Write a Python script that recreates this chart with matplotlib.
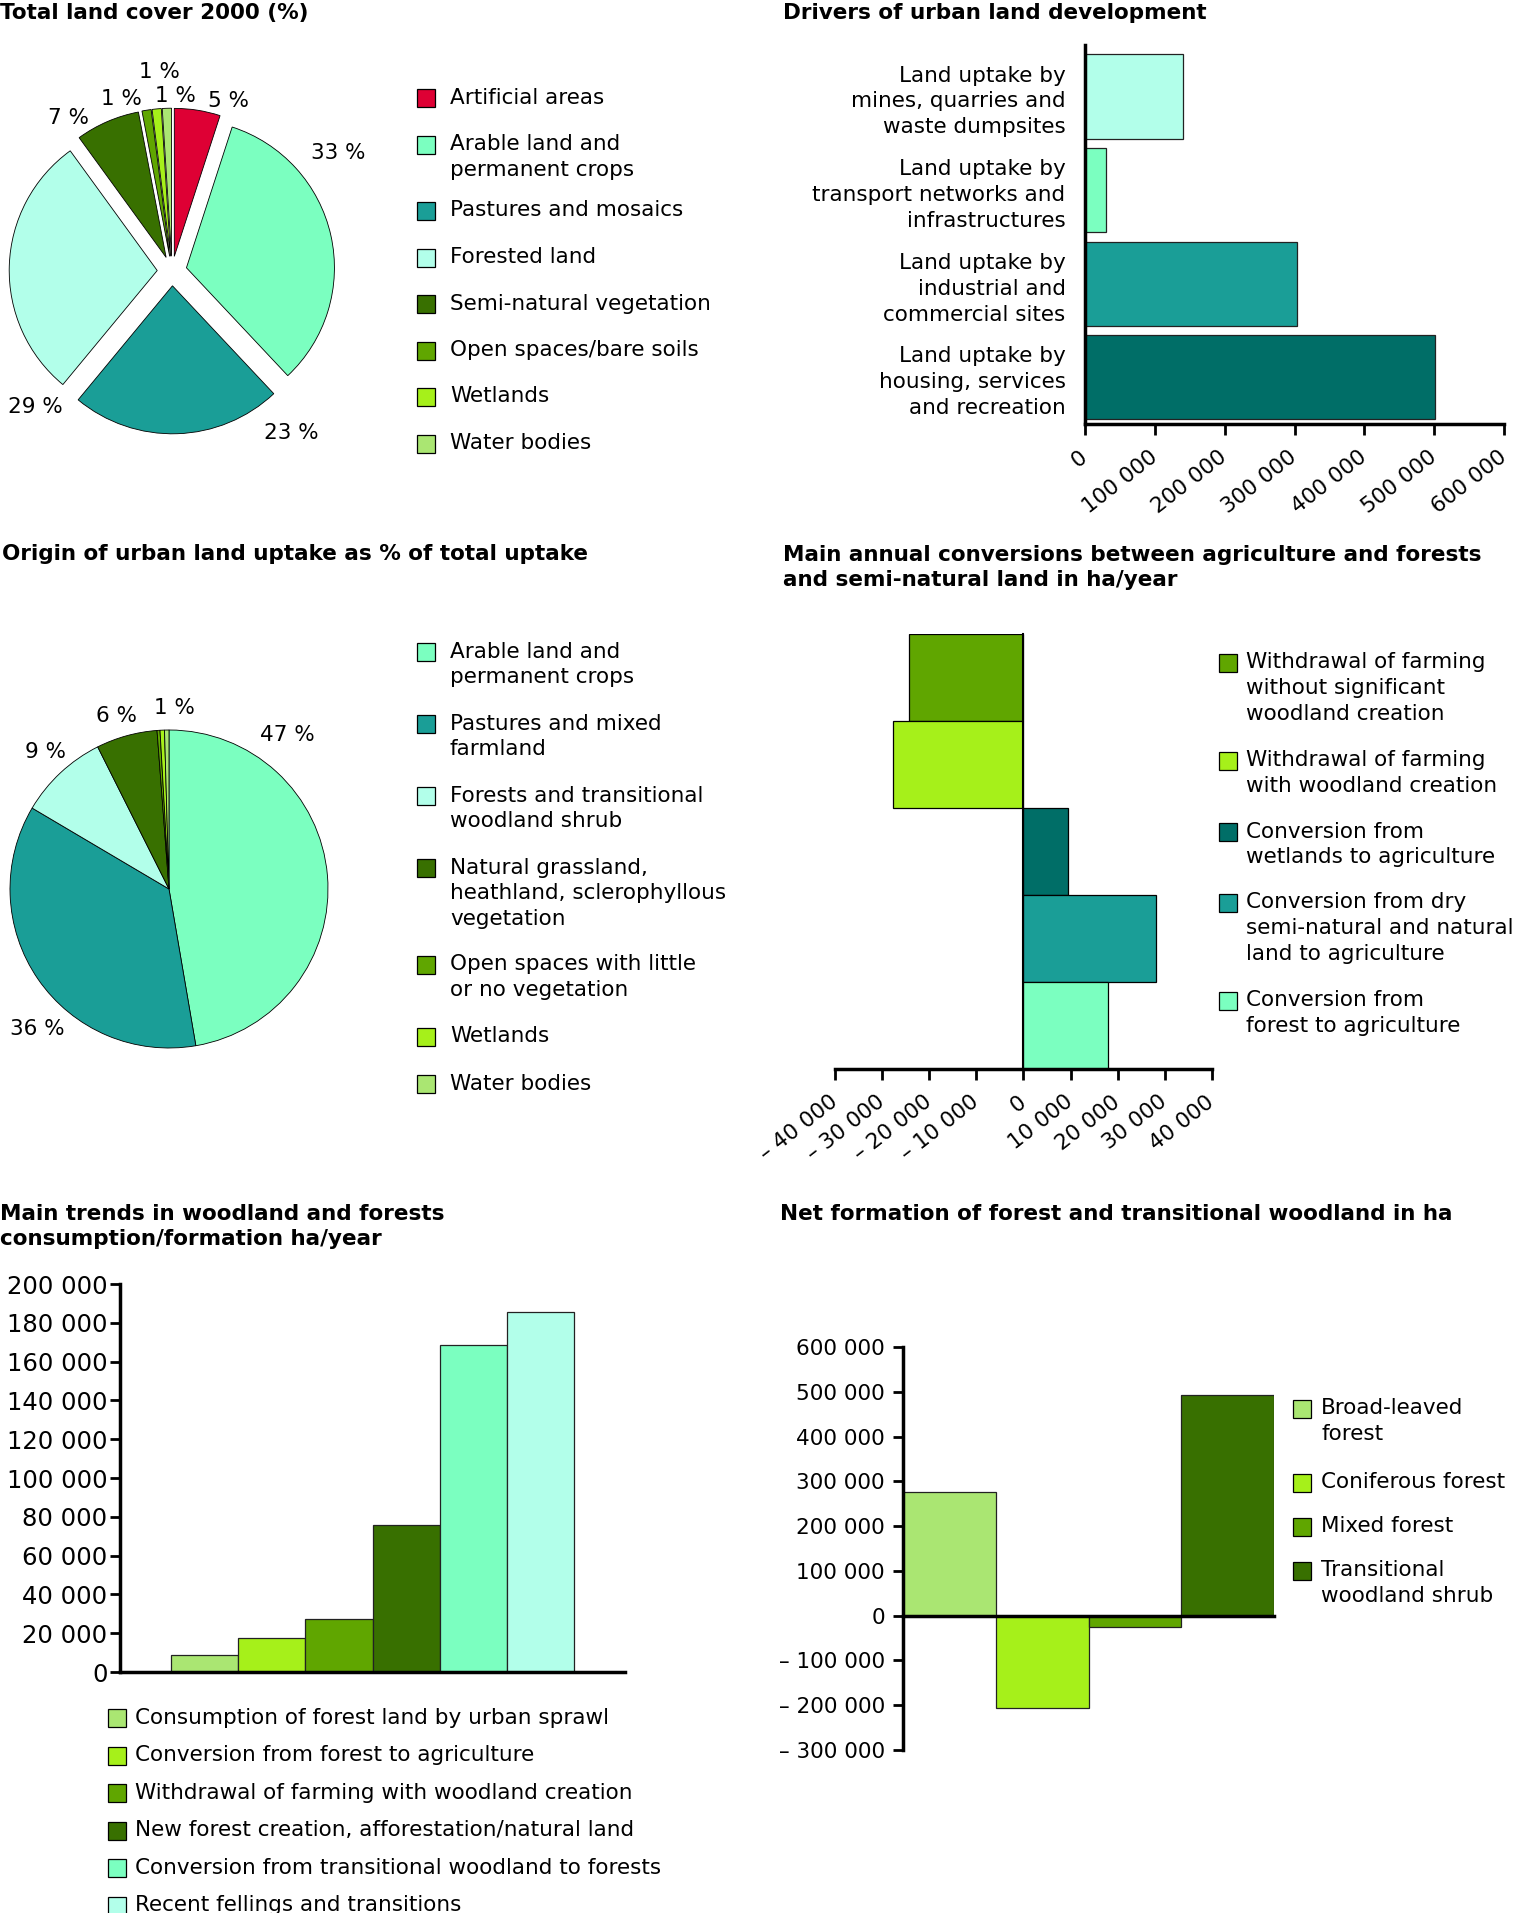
import matplotlib
matplotlib.use('Agg')
import matplotlib.pyplot as plt
from matplotlib.patches import Rectangle
import numpy as np

plt.rcParams['font.family'] = ['DejaVu Sans']

W, H = 1513, 1913
FS = 15.5
LS = 1.37

# ---------------- colours ----------------
RED = '#DE0034'; MINT = '#7BFFC0'; TEAL = '#1A9E97'; PALE = '#B2FFEA'; DTEAL = '#006E67'
DGREEN = '#387000'; MGREEN = '#60A600'; LIME = '#A6F01A'; LGREEN = '#AAE672'

# ---------------- data ----------------
# Panel 1: Total land cover 2000 (%)
lc_labels = ['Artificial areas', 'Arable land and\npermanent crops', 'Pastures and mosaics',
             'Forested land', 'Semi-natural vegetation', 'Open spaces/bare soils',
             'Wetlands', 'Water bodies']
lc_values = [5, 33, 23, 29, 7, 1, 1, 1]
lc_text = ['5 %', '33 %', '23 %', '29 %', '7 %', '1 %', '1 %', '1 %']
lc_colors = [RED, MINT, TEAL, PALE, DGREEN, MGREEN, LIME, LGREEN]

# Panel 2: Drivers of urban land development
drv_labels = ['Land uptake by\nmines, quarries and\nwaste dumpsites',
              'Land uptake by\ntransport networks and\ninfrastructures',
              'Land uptake by\nindustrial and\ncommercial sites',
              'Land uptake by\nhousing, services\nand recreation']
drv_values = [141000, 30000, 303000, 501000]
drv_colors = [PALE, MINT, TEAL, DTEAL]
drv_ticks = [0, 100000, 200000, 300000, 400000, 500000, 600000]

# Panel 3: Origin of urban land uptake
org_labels = ['Arable land and\npermanent crops', 'Pastures and mixed\nfarmland',
              'Forests and transitional\nwoodland shrub',
              'Natural grassland,\nheathland, sclerophyllous\nvegetation',
              'Open spaces with little\nor no vegetation', 'Wetlands', 'Water bodies']
org_values = [47.3, 36.2, 9.1, 6.2, 0.3, 0.45, 0.45]
org_text = ['47 %', '36 %', '9 %', '6 %', '', '1 %', '']
org_colors = [MINT, TEAL, PALE, DGREEN, MGREEN, LIME, LGREEN]

# Panel 4: Main annual conversions
cnv_labels = ['Withdrawal of farming\nwithout significant\nwoodland creation',
              'Withdrawal of farming\nwith woodland creation',
              'Conversion from\nwetlands to agriculture',
              'Conversion from dry\nsemi-natural and natural\nland to agriculture',
              'Conversion from\nforest to agriculture']
cnv_values = [-24400, -27600, 9500, 28100, 18000]
cnv_colors = [MGREEN, LIME, DTEAL, TEAL, MINT]
cnv_ticks = [-40000, -30000, -20000, -10000, 0, 10000, 20000, 30000, 40000]

# Panel 5: Main trends in woodland and forests
trd_labels = ['Consumption of forest land by urban sprawl',
              'Conversion from forest to agriculture',
              'Withdrawal of farming with woodland creation',
              'New forest creation, afforestation/natural land',
              'Conversion from transitional woodland to forests',
              'Recent fellings and transitions']
trd_values = [8700, 17600, 27500, 75800, 168700, 185400]
trd_colors = [LGREEN, LIME, MGREEN, DGREEN, MINT, PALE]
trd_ticks = list(range(0, 200001, 20000))

# Panel 6: Net formation of forest and transitional woodland
net_labels = ['Broad-leaved\nforest', 'Coniferous forest', 'Mixed forest',
              'Transitional\nwoodland shrub']
net_values = [277000, -207000, -25000, 492000]
net_colors = [LGREEN, LIME, MGREEN, DGREEN]
net_ticks = [-300000, -200000, -100000, 0, 100000, 200000, 300000, 400000, 500000, 600000]


def fmt(v):
    s = f"{abs(v):,}".replace(',', ' ')
    return ('\u2013 ' + s) if v < 0 else s


fig = plt.figure(figsize=(W / 100, H / 100), dpi=100)
fig.patch.set_facecolor('white')


def px_axes(left, top, width, height):
    return fig.add_axes([left / W, 1 - (top + height) / H, width / W, height / H])


def style_spines(ax, lw=2.5):
    for s in ['top', 'right']:
        ax.spines[s].set_visible(False)
    for s in ['left', 'bottom']:
        ax.spines[s].set_linewidth(lw)


# ---------------- Panel 1: pie ----------------
R1 = 148
L = 1.6
c1 = (172, 271)
ax1 = px_axes(c1[0] - L * R1, c1[1] - L * R1, 2 * L * R1, 2 * L * R1)
ax1.pie(lc_values, colors=lc_colors, startangle=90, counterclock=False,
        explode=[0.1] * len(lc_values), radius=1,
        wedgeprops=dict(edgecolor='black', linewidth=0.6))
ax1.set_xlim(-L, L); ax1.set_ylim(-L, L); ax1.set_aspect('equal'); ax1.axis('off')
lc_lab_pos = [(71.5, 1.21), (35.4, 1.38), (-53.7, 1.36), (-135.2, 1.30),
              (124, 1.25), (106.5, 1.21), (93.5, 1.35), (89, 1.18)]
for t, (a, d) in zip(lc_text, lc_lab_pos):
    ax1.text(d * np.cos(np.radians(a)), d * np.sin(np.radians(a)), t,
             ha='center', va='center', fontsize=FS)

# ---------------- Panel 3: pie ----------------
R3 = 159
c3 = (169, 889)
ax3 = px_axes(c3[0] - L * R3, c3[1] - L * R3, 2 * L * R3, 2 * L * R3)
ax3.pie(org_values, colors=org_colors, startangle=90, counterclock=False, radius=1,
        wedgeprops=dict(edgecolor='black', linewidth=0.6))
ax3.set_xlim(-L, L); ax3.set_ylim(-L, L); ax3.set_aspect('equal'); ax3.axis('off')
org_lab_pos = [(52.5, 1.22), (-133.3, 1.21), (132.1, 1.16), (106.9, 1.14),
               (0, 0), (88.4, 1.14), (0, 0)]
for t, (a, d) in zip(org_text, org_lab_pos):
    if t:
        ax3.text(d * np.cos(np.radians(a)), d * np.sin(np.radians(a)), t,
                 ha='center', va='center', fontsize=FS)

# ---------------- Panel 2: horizontal bars ----------------
ax2 = px_axes(1085, 45, 419, 379)
ypos = np.arange(len(drv_values))
ax2.barh(ypos, drv_values, height=0.9, color=drv_colors, edgecolor='#222222', linewidth=0.9)
ax2.set_ylim(3.5, -0.55)
ax2.set_xlim(0, 600000)
ax2.set_yticks(ypos)
ax2.set_yticklabels(drv_labels, fontsize=FS, linespacing=LS)
for t in ax2.get_yticklabels():
    t.set_multialignment('right')
ax2.tick_params(axis='y', length=0, pad=14)
ax2.set_xticks(drv_ticks)
ax2.set_xticklabels([fmt(v) for v in drv_ticks], rotation=38, ha='right', va='center',
                    rotation_mode='anchor', fontsize=FS)
ax2.tick_params(axis='x', direction='out', length=8, width=2, pad=14)
style_spines(ax2)

# ---------------- Panel 4: diverging bars ----------------
ax4 = px_axes(835, 634, 377, 435)
ypos4 = np.arange(len(cnv_values))
ax4.barh(ypos4, cnv_values, height=1.0, color=cnv_colors, edgecolor='black', linewidth=0.9)
ax4.set_ylim(4.5, -0.5)
ax4.set_xlim(-40000, 40000)
ax4.set_yticks([])
ax4.spines['left'].set_position(('data', 0))
ax4.set_xticks(cnv_ticks)
ax4.set_xticklabels([fmt(v) for v in cnv_ticks], rotation=38, ha='right', va='center',
                    rotation_mode='anchor', fontsize=FS)
ax4.tick_params(axis='x', direction='out', length=8, width=2, pad=14)
style_spines(ax4)
ax4.spines['left'].set_linewidth(1.5)

# ---------------- Panel 5: vertical bars ----------------
ax5 = px_axes(120, 1284, 505, 388)
xpos5 = np.arange(len(trd_values))
ax5.bar(xpos5, trd_values, width=1.0, color=trd_colors, edgecolor='#222222', linewidth=0.9)
ax5.set_xlim(-1.26, 6.26)
ax5.set_ylim(0, 200000)
ax5.set_xticks([])
ax5.set_yticks(trd_ticks)
ax5.set_yticklabels([fmt(v) for v in trd_ticks], fontsize=17.5)
ax5.tick_params(axis='y', direction='out', length=7, width=2, pad=2)
style_spines(ax5)

# ---------------- Panel 6: net formation ----------------
ax6 = px_axes(903, 1347, 371, 403)
xpos6 = np.arange(len(net_values))
ax6.bar(xpos6, net_values, width=1.0, color=net_colors, edgecolor='#222222', linewidth=0.9)
ax6.set_xlim(-0.5, 3.5)
ax6.set_ylim(-300000, 600000)
ax6.set_xticks([])
ax6.set_yticks(net_ticks)
ax6.set_yticklabels([fmt(v) for v in net_ticks], fontsize=FS)
ax6.tick_params(axis='y', direction='out', length=7, width=2, pad=6)
style_spines(ax6)
ax6.spines['bottom'].set_position(('data', 0))

# ---------------- overlay: titles and legends ----------------
ov = fig.add_axes([0, 0, 1, 1])
ov.set_xlim(0, W); ov.set_ylim(H, 0); ov.axis('off')
ov.patch.set_alpha(0)

TFS = 15.5
titles = [
    (0, 12, 'Total land cover 2000 (%)'),
    (783, 12, 'Drivers of urban land development'),
    (2, 553, 'Origin of urban land uptake as % of total uptake'),
    (783, 554, 'Main annual conversions between agriculture and forests\nand semi-natural land in ha/year'),
    (0, 1213, 'Main trends in woodland and forests\nconsumption/formation ha/year'),
    (780, 1213, 'Net formation of forest and transitional woodland in ha'),
]
for x, y, t in titles:
    ov.text(x, y - 9, t, ha='left', va='top', fontsize=TFS, fontweight='bold',
            linespacing=1.33)


def draw_legend(x_sq, x_txt, y0, labels, colors, pitch, line_h, sq=18):
    y = y0
    for lab, c in zip(labels, colors):
        ov.add_patch(Rectangle((x_sq, y - sq / 2), sq, sq, facecolor=c,
                               edgecolor='black', linewidth=0.9))
        ov.text(x_txt, y - 10.5, lab, ha='left', va='top', fontsize=FS, linespacing=LS)
        y += pitch + lab.count('\n') * line_h


draw_legend(417, 450, 98, lc_labels, lc_colors, 46.5, 20)
draw_legend(417, 450, 652, org_labels, org_colors, 47, 25)
draw_legend(1219, 1246, 663, cnv_labels, cnv_colors, 44, 27)
draw_legend(108, 135, 1718, trd_labels, trd_colors, 37.6, 27)
draw_legend(1293, 1321, 1409, net_labels, net_colors, 44, 30)

fig.savefig('out.png', dpi=100, facecolor='white')
